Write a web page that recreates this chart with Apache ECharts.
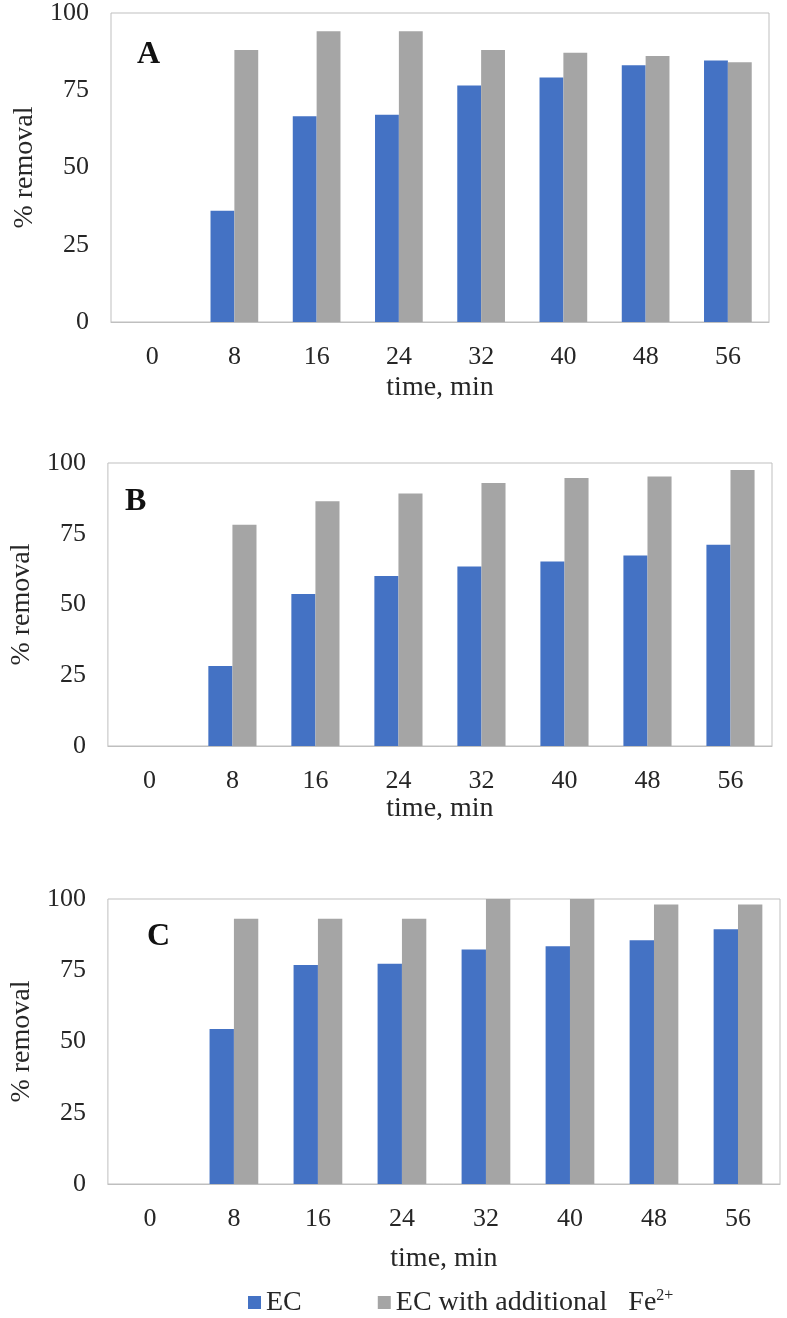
<!DOCTYPE html>
<html>
<head>
<meta charset="utf-8">
<script src="https://cdn.jsdelivr.net/npm/echarts@6/dist/echarts.min.js"></script>
<style>
html,body{margin:0;padding:0;background:#fff;}
#chart{width:787px;height:1318px;}
</style>
</head>
<body>
<div id="chart"></div>
<script>
const times = ['0','8','16','24','32','40','48','56'];
const yTicks = [0, 25, 50, 75, 100];
const panelLabels = ['A', 'B', 'C'];
const seriesNames = ['EC', 'EC with additional Fe2+'];
const ecA = [0, 36, 66.6, 67.1, 76.5, 79.1, 83.1, 84.6];
const feA = [0, 88, 94.1, 94.1, 88.0, 87.1, 86.1, 84.1];
const ecB = [0, 28.3, 53.7, 60.1, 63.4, 65.2, 67.3, 71.1];
const feB = [0, 78.2, 86.5, 89.2, 92.9, 94.7, 95.2, 97.5];
const ecC = [0, 54.4, 76.8, 77.3, 82.3, 83.4, 85.5, 89.4];
const feC = [0, 93.1, 93.1, 93.1, 100, 100, 98.1, 98.1];

const FONT = '"Liberation Serif", "Times New Roman", serif';
const TXT = '#262626';
const BLUE = '#4472C4';
const GRAY = '#A5A5A5';
const FRAME = '#BFBFBF';

const grids = [
  {left: 111, top: 13, width: 658, height: 309},
  {left: 100, top: 463, width: 672, height: 283},
  {left: 98, top: 899, width: 682, height: 285}
];
const xNameGaps = [52, 48, 61];
const yNameGaps = [66, 67, 70];
const labelPos = [{left: 137, top: 39}, {left: 125, top: 486}, {left: 147, top: 921}];
const data = [[ecA, feA], [ecB, feB], [ecC, feC]];

const option = {
  backgroundColor: '#fff',
  animation: false,
  title: panelLabels.map((t, i) => ({
    text: t, left: labelPos[i].left, top: labelPos[i].top, padding: 0,
    textStyle: {fontFamily: FONT, fontWeight: 'bold', fontSize: 32, color: '#111'}
  })),
  legend: {
    left: 243, top: 1283, itemWidth: 13, itemHeight: 13, itemGap: 76,
    icon: 'rect',
    data: seriesNames,
    textStyle: {
      fontFamily: FONT, fontSize: 28, color: TXT,
      rich: {s: {fontFamily: FONT, fontSize: 16, color: TXT, padding: [0, 0, 13, 0]}}
    },
    formatter: function (name) {
      return name === 'EC' ? 'EC' : 'EC with additional   Fe{s|2+}';
    }
  },
  grid: grids.map(g => Object.assign({show: true, borderColor: FRAME, borderWidth: 1, backgroundColor: 'transparent'}, g)),
  xAxis: grids.map((g, i) => ({
    type: 'category', gridIndex: i, data: times,
    name: 'time, min', nameLocation: 'middle', nameGap: xNameGaps[i],
    nameTextStyle: {fontFamily: FONT, fontSize: 28, color: TXT},
    axisLine: {lineStyle: {color: FRAME, width: 1}},
    axisTick: {show: false},
    axisLabel: {fontFamily: FONT, fontSize: 26, color: TXT, margin: 22}
  })),
  yAxis: grids.map((g, i) => ({
    type: 'value', gridIndex: i, min: yTicks[0], max: yTicks[yTicks.length - 1], interval: yTicks[1] - yTicks[0],
    name: '% removal', nameLocation: 'middle', nameGap: yNameGaps[i], nameRotate: 90,
    nameTextStyle: {fontFamily: FONT, fontSize: 28, color: TXT},
    axisLine: {show: false},
    axisTick: {show: false},
    splitLine: {show: false},
    axisLabel: {fontFamily: FONT, fontSize: 26, color: TXT, margin: 22}
  })),
  series: []
};

data.forEach((pair, i) => {
  pair.forEach((vals, j) => {
    option.series.push({
      type: 'bar', name: seriesNames[j], xAxisIndex: i, yAxisIndex: i,
      data: vals, barGap: 0, barCategoryGap: '42%',
      itemStyle: {color: j === 0 ? BLUE : GRAY}
    });
  });
});

const chart = echarts.init(document.getElementById('chart'), null, {renderer: 'canvas'});
chart.setOption(option);
</script>
</body>
</html>
